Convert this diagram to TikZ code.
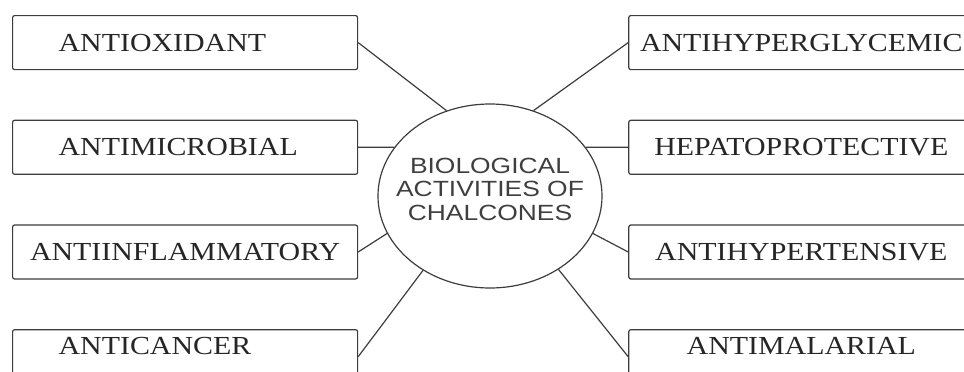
\documentclass[tikz,border=0pt]{standalone}
\usepackage{fontspec}
\setmainfont{Liberation Serif}[FakeStretch=1.15]
\newfontfamily\hubfont{Liberation Sans}[FakeStretch=1.2]
\usetikzlibrary{positioning,shapes.geometric}
\definecolor{linegray}{HTML}{3C3C3C}
\definecolor{textgray}{HTML}{3F3F3F}

\begin{document}
\begin{tikzpicture}[x=1pt,y=1pt,node distance=49.5pt and 270pt,
                    act box/.style={draw=linegray, line width=1.2pt, rounded corners=2pt,
                      minimum width=345pt, minimum height=54pt, inner sep=3pt,
                      font=\fontsize{26}{28}\selectfont, text=black!85},
                    left box/.style={act box, text width=253pt, inner xsep=46pt, align=left},
                    low box/.style={text depth=22pt},
                    hub/.style={ellipse, draw=linegray, line width=1.2pt, minimum width=224pt,
                      minimum height=184pt, inner sep=0pt, inner xsep=-40pt, align=center,
                      text=textgray, text depth=14pt,
                      font=\hubfont\fontsize{22}{23.5}\selectfont}]

  \path[use as bounding box, clip] (0,0) rectangle (964,-372);

  %Left column%
  \node[left box, anchor=north west] (oxidant) at (12,-15) {ANTIOXIDANT};
  \node[left box] (microb) [below=of oxidant] {ANTIMICROBIAL};
  \node[act box] (inflam) [below=of microb] {ANTIINFLAMMATORY};
  \node[left box, low box] (cancer) [below=of inflam] {ANTICANCER};

  %Right column%
  \node[act box] (glyc) [right=of oxidant] {ANTIHYPERGLYCEMIC};
  \node[act box] (hepato) [right=of microb] {HEPATOPROTECTIVE};
  \node[act box] (tens) [right=of inflam] {ANTIHYPERTENSIVE};
  \node[act box, low box] (malar) [right=of cancer] {ANTIMALARIAL};

  %Centre%
  \node[hub] (chal) at (490,-196) {BIOLOGICAL\\ACTIVITIES OF\\CHALCONES};

  \path[draw=linegray, line width=1.2pt]
    (oxidant.east) edge (chal.117)
    (microb.east) edge (chal.153)
    (inflam.east) edge (chal.200)
    (cancer.east) edge (chal.228)
    (glyc.west) edge (chal.63)
    (hepato.west) edge (chal.27)
    (tens.west) edge (chal.340)
    (malar.west) edge (chal.313);
\end{tikzpicture}
\end{document}
